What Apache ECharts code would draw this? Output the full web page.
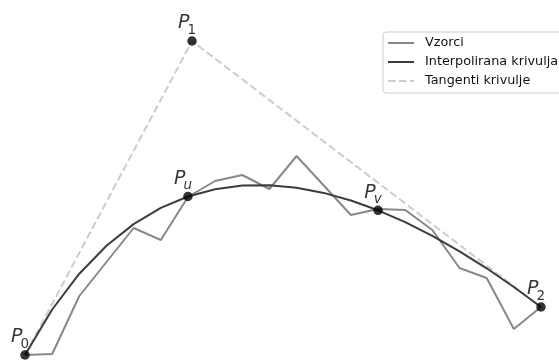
<!DOCTYPE html>
<html>
<head>
<meta charset="utf-8">
<script src="https://cdn.jsdelivr.net/npm/echarts@6/dist/echarts.min.js"></script>
<style>html,body{margin:0;padding:0;background:#fff;}#c{width:559px;height:362px;}</style>
</head>
<body>
<div id="c"></div>
<script>
// sample positions (index along x)
var sampleX = [0,1,2,3,4,5,6,7,8,9,10,11,12,13,14,15,16,17,18,19];
// noisy samples ("Vzorci")
var sampleY = [0, 0.1, 5.9, 9.3, 12.7, 11.5, 15.8, 17.4, 18.0, 16.6, 19.9, 16.95, 14.0, 14.6, 14.5, 12.5, 8.7, 7.7, 2.6, 4.8];
// interpolated curve ("Interpolirana krivulja")
var curveY = [0, 4.55, 8.13, 10.93, 13.09, 14.71, 15.85, 16.58, 16.94, 16.98, 16.72, 16.21, 15.45, 14.47, 13.29, 11.91, 10.37, 8.67, 6.8, 4.8];
// control points
var pointNames = ['0', '1', 'u', 'v', '2'];
var pointX = [0, 6.15, 6, 13, 19];
var pointY = [0, 31.4, 15.85, 14.47, 4.8];
// tangent polyline P0 - P1 - P2
var tangentX = [0, 6.15, 19];
var tangentY = [0, 31.4, 4.8];

function zip(xs, ys) { return xs.map(function (x, i) { return [x, ys[i]]; }); }

var chart = echarts.init(document.getElementById('c'), null, {renderer: 'canvas'});
var font = 'DejaVu Sans';
var subBase = {fontFamily: font, fontSize: 13.5, color: '#000', verticalAlign: 'top', lineHeight: 14, padding: [9, 0, 0, -2]};
chart.setOption({
  animation: false,
  grid: {left: 25, right: 18, top: 0, bottom: 0},
  xAxis: {type: 'value', min: 0, max: 19, show: false},
  yAxis: {type: 'value', min: -0.7, max: 35.5, show: false},
  legend: {
    orient: 'vertical', left: 383, top: 32,
    padding: [4, 4, 5, 4],
    itemWidth: 26, itemHeight: 14, itemGap: 5,
    borderColor: '#cccccc', borderWidth: 1, borderRadius: 3,
    backgroundColor: 'rgba(255,255,255,0.8)',
    itemStyle: {color: 'transparent', borderColor: 'transparent', borderWidth: 0, opacity: 0},
    textStyle: {fontFamily: font, fontSize: 12.8, color: '#111', padding: [0, 0, 0, 6], lineHeight: 14},
    data: ['Vzorci', 'Interpolirana krivulja', 'Tangenti krivulje']
  },
  series: [
    {
      name: 'Tangenti krivulje', type: 'line', data: zip(tangentX, tangentY),
      symbol: 'none', clip: false, z: 1,
      lineStyle: {color: '#cccccc', width: 2, type: [7.5, 3.5]},
      itemStyle: {color: '#cccccc'}
    },
    {
      name: 'Vzorci', type: 'line', data: zip(sampleX, sampleY),
      symbol: 'none', clip: false, z: 2,
      lineStyle: {color: '#888888', width: 2},
      itemStyle: {color: '#888888'}
    },
    {
      name: 'Interpolirana krivulja', type: 'line', data: zip(sampleX, curveY),
      symbol: 'none', clip: false, z: 3,
      lineStyle: {color: '#3c3c3c', width: 2},
      itemStyle: {color: '#3c3c3c'}
    },
    {
      name: 'Točke', type: 'scatter', z: 5,
      data: pointX.map(function (x, i) { return {value: [x, pointY[i]], name: pointNames[i]}; }),
      symbolSize: 9.5,
      itemStyle: {color: '#000'},
      label: {
        show: true, position: 'inside', offset: [-5, -17],
        formatter: function (p) {
          var isDigit = /[0-9]/.test(p.name);
          return '{p|P}{' + (isDigit ? 's' : 'si') + '|' + p.name + '}';
        },
        rich: {
          p: {fontFamily: font, fontStyle: 'italic', fontSize: 19, color: '#000', verticalAlign: 'top', lineHeight: 20},
          s: subBase,
          si: Object.assign({}, subBase, {fontStyle: 'italic'})
        }
      }
    }
  ]
});
</script>
</body>
</html>
